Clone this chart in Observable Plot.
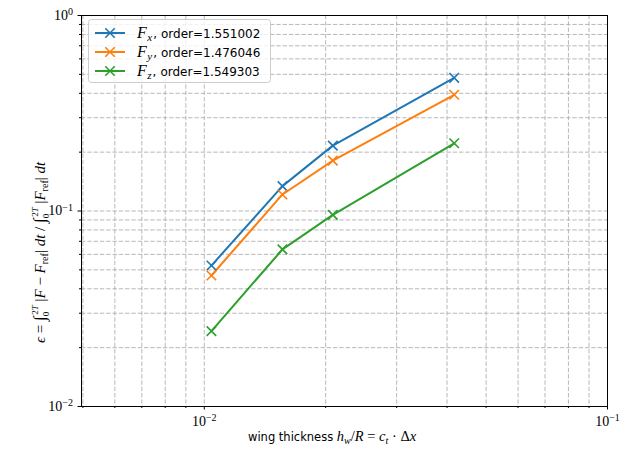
<!DOCTYPE html>
<html><head><meta charset="utf-8">
<script src="https://cdn.jsdelivr.net/npm/d3@7"></script>
<script src="https://cdn.jsdelivr.net/npm/@observablehq/plot@0.6"></script>
<style>
body{margin:0;background:#fff;}
svg{display:block;}
</style></head>
<body><div id="chart"></div>
<script>
const thickness = [0.010417, 0.015625, 0.020833, 0.041667];
const errFx = [0.0526, 0.134, 0.216, 0.480];
const errFy = [0.0468, 0.1215, 0.181, 0.393];
const errFz = [0.0243, 0.0636, 0.0956, 0.222];
const seriesNames = ["Fx", "Fy", "Fz"];
const seriesColors = ["#1f77b4", "#ff7f0e", "#2ca02c"];
const seriesOrders = ["1.551002", "1.476046", "1.549303"];
const seriesSubs = ["x", "y", "z"];
const xMajor = [0.01, 0.1];
const xMinor = [0.005, 0.006, 0.007, 0.008, 0.009, 0.02, 0.03, 0.04, 0.05, 0.06, 0.07, 0.08, 0.09];
const yMajor = [0.01, 0.1, 1];
const yMinor = [0.02,0.03,0.04,0.05,0.06,0.07,0.08,0.09,0.2,0.3,0.4,0.5,0.6,0.7,0.8,0.9];

const rows = [];
[errFx, errFy, errFz].forEach((arr, i) => arr.forEach((v, j) => rows.push({x: thickness[j], y: v, s: seriesNames[i]})));

const gridStyle = {stroke: "#b0b0b0", strokeWidth: 0.9, strokeDasharray: "4.4,1.9"};
const fmt = d => "10^" + Math.round(Math.log10(d));

const chart = Plot.plot({
  width: 620, height: 449,
  marginLeft: 81, marginRight: 13, marginTop: 15, marginBottom: 43,
  style: {fontFamily: "Liberation Serif, serif", fontSize: "14px", color: "#000", background: "#fff"},
  x: {type: "log", domain: [0.00496, 0.1]},
  y: {type: "log", domain: [0.01, 1]},
  color: {domain: seriesNames, range: seriesColors},
  marks: [
    Plot.ruleX([...xMajor, ...xMinor], {...gridStyle}),
    Plot.ruleY([...yMajor, ...yMinor], {...gridStyle}),
    Plot.line(rows, {x: "x", y: "y", stroke: "s", strokeWidth: 2}),
    Plot.dot(rows, {x: "x", y: "y", stroke: "s", symbol: "times", r: 4.4, strokeWidth: 1.6}),
    Plot.frame({stroke: "#000", strokeWidth: 1}),
    Plot.axisX(xMajor, {tickSize: 3.5, tickPadding: 6, tickFormat: fmt, label: null}),
    Plot.axisX(xMinor, {tickSize: 2, tickFormat: () => "", label: null}),
    Plot.axisY(yMajor, {tickSize: 3.5, tickPadding: 5, tickFormat: fmt, label: null}),
    Plot.axisY(yMinor, {tickSize: 2, tickFormat: () => "", label: null})
  ]
});
document.getElementById("chart").appendChild(chart);

const svg = d3.select(chart);
// superscript tick labels
svg.selectAll("text").each(function() {
  const t = d3.select(this);
  const m = /^10\^(-?\d+)$/.exec(t.text());
  if (m) {
    t.text("").attr("font-size", 14);
    t.append("tspan").text("10");
    t.append("tspan").attr("dy", "-0.45em").attr("font-size", "10px").text(m[1].replace("-", "−"));
  }
});

const SANS = "DejaVu Sans, sans-serif";
const SERIF = "Liberation Serif, serif";

// legend
const lg = svg.append("g").attr("text-anchor", "start");
lg.append("rect").attr("x", 88.5).attr("y", 19.5).attr("width", 182).attr("height", 63).attr("rx", 3)
  .attr("fill", "#fff").attr("fill-opacity", 0.8).attr("stroke", "#cccccc");
seriesNames.forEach((s, i) => {
  const yy = 33 + i * 19;
  lg.append("line").attr("x1", 95).attr("x2", 125).attr("y1", yy).attr("y2", yy)
    .attr("stroke", seriesColors[i]).attr("stroke-width", 2);
  lg.append("path").attr("d", d3.symbol(d3.symbolTimes, 60)()).attr("transform", `translate(110,${yy})`)
    .attr("stroke", seriesColors[i]).attr("stroke-width", 1.6).attr("fill", "none");
  const t = lg.append("text").attr("x", 137).attr("y", yy + 4.5).attr("font-size", 12).attr("text-anchor", "start");
  t.append("tspan").attr("font-family", SERIF).attr("font-style", "italic").attr("font-size", 16).text("F");
  t.append("tspan").attr("font-family", SERIF).attr("font-style", "italic").attr("font-size", 11).attr("dy", 3).attr("dx", 0.5).text(seriesSubs[i]);
  t.append("tspan").attr("font-family", SANS).attr("font-size", 12).attr("dy", -3).attr("dx", 1).text(",");
  t.append("tspan").attr("font-family", SANS).attr("font-size", 12).attr("dx", 4).text("order=" + seriesOrders[i]);
});

// x label
const xl = svg.append("text").attr("x", 248).attr("y", 441).attr("text-anchor", "start").attr("font-size", 11.5);
xl.append("tspan").attr("font-family", SANS).text("wing thickness ");
xl.append("tspan").attr("font-family", SERIF).attr("font-style", "italic").attr("font-size", 14.5).text("h");
xl.append("tspan").attr("font-family", SERIF).attr("font-style", "italic").attr("font-size", 10).attr("dy", 2.5).text("w");
xl.append("tspan").attr("font-family", SERIF).attr("font-size", 14.5).attr("dy", -2.5).text("/");
xl.append("tspan").attr("font-family", SERIF).attr("font-style", "italic").attr("font-size", 14.5).text("R");
xl.append("tspan").attr("font-family", SERIF).attr("font-size", 14.5).text(" = ");
xl.append("tspan").attr("font-family", SERIF).attr("font-style", "italic").attr("font-size", 14.5).text("c");
xl.append("tspan").attr("font-family", SERIF).attr("font-style", "italic").attr("font-size", 10).attr("dy", 2.5).text("t");
xl.append("tspan").attr("font-family", SERIF).attr("font-size", 14.5).attr("dy", -2.5).text(" · Δ");
xl.append("tspan").attr("font-family", SERIF).attr("font-style", "italic").attr("font-size", 14.5).text("x");

// y label
const yl = svg.append("text").attr("transform", "translate(45,343) rotate(-90)").attr("text-anchor", "start")
  .attr("font-family", SERIF).attr("font-size", 15);
function it(str, size) { return yl.append("tspan").attr("font-style", "italic").attr("font-size", size || 15).text(str); }
function rm(str, size) { return yl.append("tspan").attr("font-size", size || 15).text(str); }
function integral() {
  rm("∫", 17);
  yl.append("tspan").attr("font-size", 9).attr("dy", 4).text("0");
  yl.append("tspan").attr("font-size", 9).attr("dy", -11).attr("dx", -3).text("2");
  yl.append("tspan").attr("font-size", 9).attr("font-style", "italic").text("T");
  yl.append("tspan").attr("font-size", 15).attr("dy", 7).text(" ");
}
it("ϵ"); rm(" = ");
integral();
rm("|"); it("F"); rm(" − "); it("F");
yl.append("tspan").attr("font-size", 10).attr("dy", 2.5).text("ref");
yl.append("tspan").attr("font-size", 15).attr("dy", -2.5).text("| ");
it("dt"); rm(" / ");
integral();
rm("|"); it("F");
yl.append("tspan").attr("font-size", 10).attr("dy", 2.5).text("ref");
yl.append("tspan").attr("font-size", 15).attr("dy", -2.5).text("| ");
it("dt");
</script></body></html>
